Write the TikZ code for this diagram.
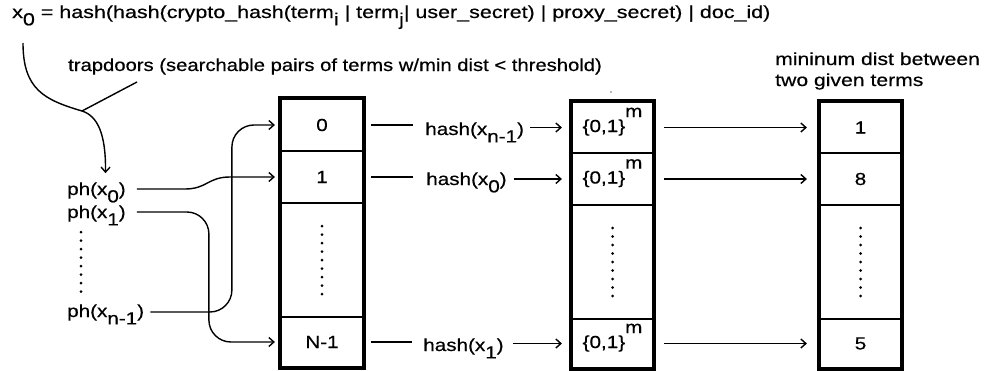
\documentclass[tikz,border=0pt]{standalone}
\usepackage{fontspec}
\setmainfont{Liberation Sans}[FakeStretch=1.18, FakeBold=0.5]
\usetikzlibrary{arrows.meta,calc}
% full-size lowered / raised indices, as in the drawing
\newcommand\subdown[1]{\raisebox{-0.42em}{#1}}
\newcommand\supup[1]{\smash{\raisebox{0.85em}{#1}}}
\begin{document}
\begin{tikzpicture}[x=1pt,y=-1pt,
  font=\fontsize{17.5}{21}\selectfont,
  cell/.style={draw, line width=2.2pt, minimum width=82pt, inner sep=0pt},
  frame/.style={line width=3pt},
  conn/.style={line width=1.4pt},
  arr/.style={conn, -{Straight Barb[length=5pt,width=9pt]}},
  dotcol/.style={line width=3pt, line cap=round, dash pattern=on 0pt off 8.5pt},
  txt/.style={inner sep=0pt, anchor=base west}]
\useasboundingbox (0,0) rectangle (984,370);

% ---- headings ----
\node[txt] (formula) at (12,18) {\scalebox{1.04}[1]{x\subdown{0} = hash(hash(crypto\_hash(term\subdown{i} | term\subdown{j}| user\_secret) | proxy\_secret) | doc\_id)}};
\node[txt] (trap) at (68,71) {\scalebox{0.98}[1]{trapdoors (searchable pairs of terms w/min dist < threshold)}};
\node[txt] (mind1) at (775,65) {\scalebox{1.025}[1]{mininum dist between}};
\node[txt] (mind2) at (775,86) {\scalebox{1.025}[1]{two given terms}};

% ---- trapdoor list ----
\node[txt] (ph0) at (67,195) {ph(x\subdown{0})};
\node[txt] (ph1) at (67,218) {ph(x\subdown{1})};
\node[txt] (phn) at (67,317) {ph(x\subdown{n-1})};
\draw[dotcol] (81,232) -- (81,291.5);

% ---- index table ----
\node[cell, minimum height=52pt] (a0) at (322,125) {0};
\node[cell, minimum height=52pt] (a1) at (322,177) {1};
\node[cell, minimum height=114pt] (ad) at (322,260) {};
\node[cell, minimum height=50pt] (aN) at (322,342) {N-1};
\draw[frame] (a0.north west) rectangle (aN.south east);
\draw[dotcol] ($(ad.center)+(0,-34)$) -- ($(ad.center)+(0,34)$);

% ---- bit-string table ----
\node[cell, minimum width=81pt, minimum height=51pt] (b0) at (612.5,127.5) {\{0,1\}\supup{m}};
\node[cell, minimum width=81pt, minimum height=52pt] (b1) at (612.5,179) {\{0,1\}\supup{m}};
\node[cell, minimum width=81pt, minimum height=114pt] (bd) at (612.5,262) {};
\node[cell, minimum width=81pt, minimum height=49pt] (bN) at (612.5,343.5) {\{0,1\}\supup{m}};
\draw[frame] (b0.north west) rectangle (bN.south east);
\draw[dotcol] ($(bd.center)+(0,-34)$) -- ($(bd.center)+(0,34)$);
\fill[black!55] (611,92) circle (0.8pt);

% ---- distance table ----
\node[cell, minimum width=81pt, minimum height=51pt] (c0) at (860.5,127.5) {1};
\node[cell, minimum width=81pt, minimum height=52pt] (c1) at (860.5,179) {8};
\node[cell, minimum width=81pt, minimum height=114pt] (cd) at (860.5,262) {};
\node[cell, minimum width=81pt, minimum height=49pt] (cN) at (860.5,343.5) {5};
\draw[frame] (c0.north west) rectangle (cN.south east);
\draw[dotcol] ($(cd.center)+(0,-34)$) -- ($(cd.center)+(0,34)$);

% ---- x0 leads to ph(x0); the trapdoor caption joins it ----
\coordinate (tdjoin) at (82,111);
\draw[arr] ($(formula.base west)+(11,25)$) .. controls +(0,47) and (45,100) .. (tdjoin)
  .. controls (98,116) and (106,135) .. ($(ph0.north)+(9,-9)$);
\draw[conn] ($(trap.base west)+(69,11)$) -- (tdjoin);

% ---- trapdoors into index slots ----
\draw[arr] ($(ph0.base east)+(11,-6)$) -- ++(48,0)
  .. controls +(22,0) and +(-22,0) .. ($(a1.west)+(-50,0)$) -- ($(a1.west)+(-5,0)$);
\draw[arr, rounded corners=22pt] ($(ph1.base east)+(11,-6)$) -| ($(aN.west)+(-71,0)$) -- ($(aN.west)+(-5,0)$);
\draw[arr, rounded corners=22pt] ($(phn.base east)+(6,-5)$) -| ($(a0.west)+(-48,0)$) -- ($(a0.west)+(-5,0)$);

% ---- index slots to bit strings ----
\node[txt] (h0) at ($(a0.east)+(61,10)$) {hash(x\subdown{n-1})};
\node[txt] (h1) at ($(a1.east)+(62,8)$) {hash(x\subdown{0})};
\node[txt] (hN) at ($(aN.east)+(59,9)$) {hash(x\subdown{1})};
\draw[conn, shorten <=7pt, shorten >=12pt] (a0.east) -- (a0.east -| h0.west);
\draw[conn, shorten <=7pt, shorten >=13pt] (a1.east) -- (a1.east -| h1.west);
\draw[conn, shorten <=7pt, shorten >=11pt] (aN.east) -- (aN.east -| hN.west);
\draw[arr, shorten <=6pt, shorten >=9pt] (b0.west -| h0.east) -- (b0.west);
\draw[arr, shorten <=7pt, shorten >=9pt] (b1.west -| h1.east) -- (b1.west);
\draw[arr, shorten <=9pt, shorten >=9pt] (bN.west -| hN.east) -- (bN.west);

% ---- bit strings to minimum distances ----
\draw[arr, shorten <=10pt, shorten >=12pt] (b0.east) -- (c0.west);
\draw[arr, shorten <=10pt, shorten >=12pt] (b1.east) -- (c1.west);
\draw[arr, shorten <=10pt, shorten >=12pt] (bN.east) -- (cN.west);
\end{tikzpicture}
\end{document}
